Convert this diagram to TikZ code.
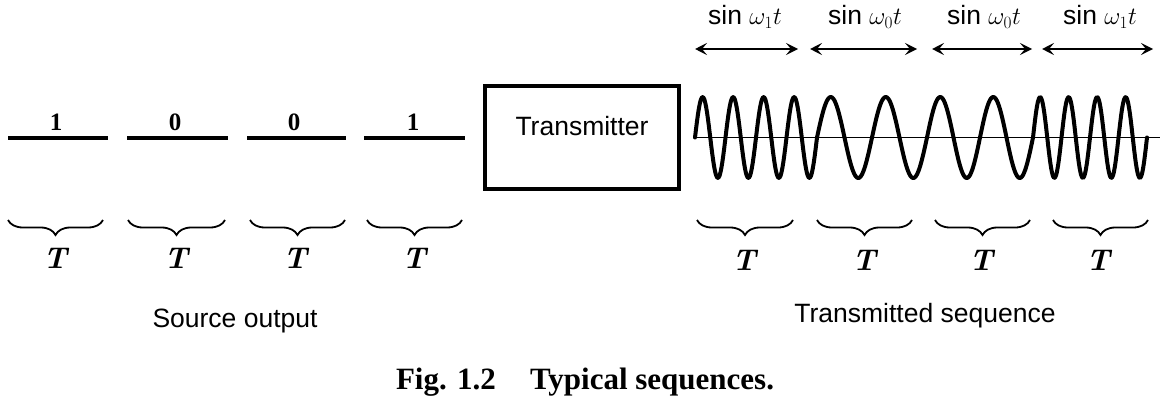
\documentclass[tikz,border=0pt]{standalone}
\usepackage{fontspec}
\setsansfont{Liberation Sans}
\newfontfamily\capfont{Liberation Serif}
\usetikzlibrary{arrows.meta,decorations.pathreplacing}
\tikzset{
  srcline/.style={line width=4pt},
  tbrace/.style={decorate, decoration={brace, mirror, amplitude=15pt}, line width=1.8pt},
  tlabel/.style={font=\fontsize{30}{30}\selectfont\bfseries\itshape, anchor=base, inner sep=0pt},
  digit/.style={font=\capfont\bfseries\fontsize{25}{25}\selectfont, anchor=base, inner sep=0pt},
  sanslbl/.style={font=\sffamily\fontsize{26.5}{30}\selectfont, anchor=base, inner sep=0pt},
  spanarrow/.style={{Stealth[length=12pt,width=12pt,inset=5pt]}-{Stealth[length=12pt,width=12pt,inset=5pt]}, line width=2pt},
  wave/.style={line width=4pt, line join=round, line cap=round},
  axisline/.style={line width=1.8pt},
  txbox/.style={draw, line width=3.5pt, minimum width=194pt, minimum height=103pt, inner sep=0pt,
    font=\sffamily\fontsize{26.5}{30}\selectfont, text height=19pt, text depth=24pt}
}
\begin{document}
\begin{tikzpicture}[x=1pt,y=-1pt]
\useasboundingbox (0,0) rectangle (1169,404);

% source output lines
\coordinate (s1a) at (8,138);   \coordinate (s1b) at (108,138);
\coordinate (s2a) at (127,138); \coordinate (s2b) at (228,138);
\coordinate (s3a) at (247,138); \coordinate (s3b) at (346,138);
\coordinate (s4a) at (364,138); \coordinate (s4b) at (465,138);
\draw[srcline] (s1a) -- (s1b);
\draw[srcline] (s2a) -- (s2b);
\draw[srcline] (s3a) -- (s3b);
\draw[srcline] (s4a) -- (s4b);
\node[digit] (d1) at (56,130) {1};
\node[digit] (d2) at (175,130) {0};
\node[digit] (d3) at (294,130) {0};
\node[digit] (d4) at (413,130) {1};

% source braces
\coordinate (b1a) at (8,220);   \coordinate (b1b) at (103,220);
\coordinate (b2a) at (128,220); \coordinate (b2b) at (225,220);
\coordinate (b3a) at (250,220); \coordinate (b3b) at (345,220);
\coordinate (b4a) at (367,220); \coordinate (b4b) at (462,220);
\draw[tbrace] (b1a) -- (b1b);
\draw[tbrace] (b2a) -- (b2b);
\draw[tbrace] (b3a) -- (b3b);
\draw[tbrace] (b4a) -- (b4b);
\node[tlabel] (t1) at (55,268) {T};
\node[tlabel] (t2) at (176,268) {T};
\node[tlabel] (t3) at (295,268) {T};
\node[tlabel] (t4) at (414,268) {T};
\node[sanslbl] (src) at (235,327) {Source output};

% transmitter
\node[txbox] (tx) at (582,137.5) {Transmitter};

% waveform
\coordinate (ax1) at (695,137.5); \coordinate (ax2) at (1160,137.5);
\draw[axisline] (ax1) -- (ax2);
\draw[wave]
  plot[domain=695:817, samples=121, smooth] (\x,{137.5-40.5*sin(11.8033*(\x-695))})
  -- plot[domain=817:927, samples=111, smooth] (\x,{137.5-40.5*sin(6.54545*(\x-817))})
  -- plot[domain=927:1033, samples=107, smooth] (\x,{137.5-40.5*sin(6.79245*(\x-927))})
  -- plot[domain=1033:1147, samples=115, smooth] (\x,{137.5-40.5*sin(12.6316*(\x-1033))});

% frequency labels and arrows
\node[sanslbl] (f1) at (745,25) {sin $\omega_1 t$};
\node[sanslbl] (f2) at (865,25) {sin $\omega_0 t$};
\node[sanslbl] (f3) at (984,25) {sin $\omega_0 t$};
\node[sanslbl] (f4) at (1100,25) {sin $\omega_1 t$};
\coordinate (a1a) at (695,49);  \coordinate (a1b) at (798,49);
\coordinate (a2a) at (810,49);  \coordinate (a2b) at (917,49);
\coordinate (a3a) at (932,49);  \coordinate (a3b) at (1032,49);
\coordinate (a4a) at (1042,49); \coordinate (a4b) at (1153,49);
\draw[spanarrow] (a1a) -- (a1b);
\draw[spanarrow] (a2a) -- (a2b);
\draw[spanarrow] (a3a) -- (a3b);
\draw[spanarrow] (a4a) -- (a4b);

% transmitted braces
\coordinate (c1a) at (697,220);  \coordinate (c1b) at (793,220);
\coordinate (c2a) at (817,220);  \coordinate (c2b) at (912,220);
\coordinate (c3a) at (935,220);  \coordinate (c3b) at (1030,220);
\coordinate (c4a) at (1053,220); \coordinate (c4b) at (1148,220);
\draw[tbrace] (c1a) -- (c1b);
\draw[tbrace] (c2a) -- (c2b);
\draw[tbrace] (c3a) -- (c3b);
\draw[tbrace] (c4a) -- (c4b);
\node[tlabel] (u1) at (744,270) {T};
\node[tlabel] (u2) at (864,270) {T};
\node[tlabel] (u3) at (981,270) {T};
\node[tlabel] (u4) at (1098,270) {T};
\node[sanslbl] (trs) at (925,322) {Transmitted sequence};

% caption
\node[anchor=base, inner sep=0pt, font=\capfont\bfseries\fontsize{31}{31}\selectfont] (cap) at (585,389) {Fig. 1.2\hspace{1.1em}Typical sequences.};
\end{tikzpicture}
\end{document}
